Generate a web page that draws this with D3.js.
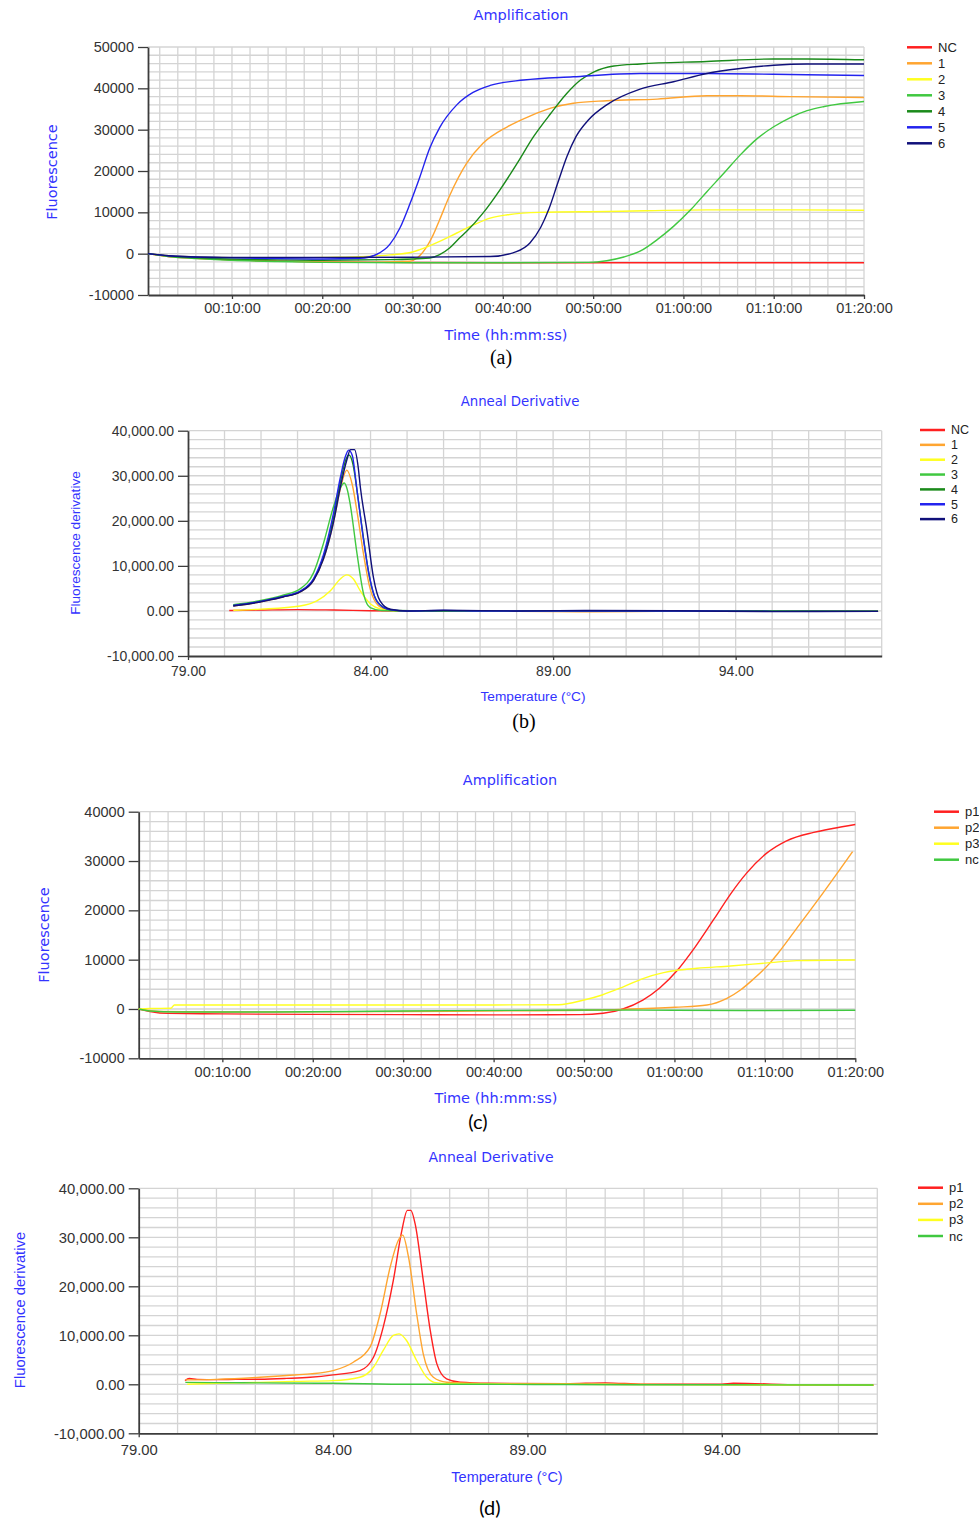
<!DOCTYPE html>
<html>
<head>
<meta charset="utf-8">
<script src="https://cdnjs.cloudflare.com/ajax/libs/d3/7.8.5/d3.min.js"></script>
<style>
body { margin: 0; background: #fff; }
</style>
</head>
<body>
<div id="chart"></div>
<script>
// ---------- data ----------
// (a) amplification, time in minutes
var ampALabels = ["NC", "1", "2", "3", "4", "5", "6"];
var ampA_NC = [[0.7,0],[3,-700],[6,-1100],[10,-1500],[15,-1800],[20,-2000],[30,-2150],[40,-2200],[50,-2200],[60,-2200],[70,-2200],[80,-2200]];
var ampA_1 = [[0.7,0],[3,-700],[6,-1100],[10,-1500],[15,-1800],[20,-2000],[25,-2100],[29.7,-1850],[30.5,-1050],[31.6,1760],[32.3,4600],[33,8200],[34.1,14000],[36,21900],[37.8,26700],[40.5,30700],[43,33300],[45.3,35200],[47.8,36400],[51.5,37000],[57.1,37400],[62.6,38200],[66.3,38200],[71.9,38000],[80,37800]];
var ampA_2 = [[0.7,0],[3,-500],[6,-800],[10,-1000],[15,-1100],[20,-900],[25,-650],[27.5,-300],[30,400],[30.8,970],[33,3000],[34.9,5000],[36.8,7000],[38.6,8600],[40.5,9400],[44.1,10000],[51.5,10200],[62.6,10600],[70,10600],[80,10500]];
var ampA_3 = [[0.7,0],[3,-700],[6,-1200],[10,-1600],[15,-1900],[20,-2100],[30,-2200],[40,-2200],[49.5,-2100],[51.5,-1700],[53.4,-800],[55.2,600],[57.1,3400],[58.9,6600],[60.8,10600],[62.6,15000],[64.5,19500],[66.3,23900],[68.2,27900],[70,30700],[71.9,33000],[73.7,34600],[75.6,35600],[80,36800]];
var ampA_4 = [[0.7,0],[3,-600],[6,-1000],[10,-1300],[15,-1500],[20,-1600],[27.5,-1450],[31.9,-1050],[33,-240],[34.1,1370],[35.2,3790],[36,5400],[37.8,9800],[39.7,15500],[41.6,21900],[43.4,28300],[45.3,33900],[47.1,38800],[48.6,42000],[50.1,44000],[52.3,45400],[55.2,45900],[62.6,46500],[70,47100],[73.7,47100],[80,46900]];
var ampA_5 = [[0.7,0],[3,-500],[6,-800],[10,-1000],[15,-1200],[20,-1300],[24.2,-1100],[26,-200],[27.5,2300],[28.6,6200],[29.7,12000],[30.8,18500],[31.9,25500],[33,30500],[34.9,36000],[36.7,39000],[38.6,40700],[42.3,42000],[47.8,42800],[55.2,43600],[62.7,43600],[70,43400],[80,43100]];
var ampA_6 = [[0.7,0],[3,-500],[6,-800],[10,-900],[20,-900],[30,-850],[38.6,-700],[41.5,500],[43,2600],[44.2,6400],[45.1,10800],[46.1,17200],[47.1,23500],[48.1,28300],[49.5,32400],[51.5,36000],[55.2,39800],[58.9,41600],[62.6,43600],[66.3,44800],[70,45600],[73.7,45900],[80,45900]];

// (b) anneal derivative, temperature in deg C
var derBLabels = ["NC", "1", "2", "3", "4", "5", "6"];
var derB_NC = [[80.13,100],[81,200],[82,300],[83,200],[84,50],[85,0],[90,0],[95,-50],[97.9,-50]];
var derB_1 = [[80.24,1100],[80.7,1600],[81.16,2300],[81.6,3100],[82.07,4200],[82.44,6800],[82.71,11500],[82.98,19500],[83.17,27000],[83.35,31250],[83.5,28000],[83.65,21000],[83.8,13000],[83.97,5500],[84.15,1800],[84.4,400],[84.8,0],[88,-100],[90,-200],[92,-100],[97.9,-100]];
var derB_2 = [[80.24,150],[81,400],[82.07,1100],[82.53,2230],[82.9,4460],[83.17,7100],[83.35,8000],[83.53,7100],[83.72,4460],[84,1560],[84.26,450],[84.6,50],[85,0],[88,-100],[90,-50],[97.9,-50]];
var derB_3 = [[80.24,1400],[80.7,1900],[81.16,2600],[81.6,3500],[82.07,4900],[82.44,8500],[82.71,15000],[82.98,23000],[83.17,27300],[83.28,28400],[83.36,27000],[83.44,23800],[83.63,12650],[83.81,3720],[83.99,740],[84.3,100],[85,0],[90,0],[97.9,-50]];
var derB_4 = [[80.24,1200],[80.7,1700],[81.16,2400],[81.6,3200],[82.07,4300],[82.44,7000],[82.71,12000],[82.98,20500],[83.17,28500],[83.32,33500],[83.41,34600],[83.52,32500],[83.65,25500],[83.8,16500],[83.97,7500],[84.15,2500],[84.4,600],[84.7,100],[85.5,0],[90,0],[97.9,-50]];
var derB_5 = [[80.24,1200],[80.7,1700],[81.16,2400],[81.6,3200],[82.07,4400],[82.44,7200],[82.71,12500],[82.98,21500],[83.17,29500],[83.3,34000],[83.4,35700],[83.5,34500],[83.62,27400],[83.77,18000],[83.95,8500],[84.13,2800],[84.35,800],[84.6,200],[85,0],[86,100],[87,0],[90,-50],[93,0],[95,-100],[97.9,-100]];
var derB_6 = [[80.24,1100],[80.7,1600],[81.16,2300],[81.6,3100],[82.07,4200],[82.44,6800],[82.71,11500],[82.98,19500],[83.2,28500],[83.35,33500],[83.45,35800],[83.56,35800],[83.66,32000],[83.72,27500],[83.9,17900],[84.08,7400],[84.26,2230],[84.54,380],[85,0],[86,150],[88,0],[90,100],[93,0],[95,-150],[97.9,-100]];

// (c) amplification, time in minutes
var ampCLabels = ["p1", "p2", "p3", "nc"];
var ampC_p1 = [[0.75,0],[2,-500],[4,-900],[10,-1000],[20,-1100],[30,-1150],[40,-1200],[49.6,-1150],[52.1,-880],[54.3,0],[56.5,1800],[58.4,4300],[60.3,7800],[62.3,12600],[64.4,18300],[66.2,23300],[68,27600],[70.2,31600],[72.4,34100],[75.4,35800],[77.5,36600],[80,37400]];
var ampC_p2 = [[0.75,0],[3,-500],[10,-600],[30,-500],[45,-350],[54,-100],[60.1,340],[63.6,800],[65.8,2160],[67.3,3850],[68.7,6000],[70.6,9400],[71.5,11400],[73.5,16300],[76.5,23700],[79.7,31900]];
var ampC_p3 = [[0.75,0],[2,100],[4.3,150],[4.7,810],[10,820],[20,820],[30,820],[40,820],[47.2,850],[50,1820],[52,2840],[54.4,4530],[56.6,6220],[58.8,7360],[60.1,7800],[62.5,8250],[66.2,8720],[70.6,9390],[73.5,9800],[80,9930]];
var ampC_nc = [[0.75,0],[2,-400],[5,-600],[15,-600],[30,-400],[50,-200],[60,-250],[70,-300],[80,-250]];

// (d) anneal derivative, temperature in deg C
var derDLabels = ["p1", "p2", "p3", "nc"];
var derD_p1 = [[80.19,760],[80.3,1170],[80.5,1000],[81,950],[81.5,1000],[82.12,1030],[82.8,1200],[83.41,1430],[84,1920],[84.69,2800],[85.04,5530],[85.29,11670],[85.55,21200],[85.77,31400],[85.91,35500],[86,35500],[86.11,32800],[86.32,21200],[86.5,11000],[86.67,4170],[86.92,1100],[87.27,410],[88,200],[90,100],[91,300],[92,0],[94,0],[94.3,200],[96,-100],[97.9,-200]];
var derD_p2 = [[80.2,900],[81,1000],[82.12,1430],[82.8,1800],[83.41,2120],[84,2800],[84.52,4500],[84.95,7570],[85.21,14400],[85.47,23950],[85.68,29400],[85.79,30440],[85.94,26000],[86.15,14400],[86.32,6200],[86.58,1430],[86.92,410],[87.5,200],[90,0],[94,-100],[97.9,-200]];
var derD_p3 = [[80.25,0],[81,200],[82.12,400],[83,600],[84,750],[84.69,1430],[85.04,3480],[85.29,6900],[85.55,9970],[85.7,10300],[85.89,8940],[86.15,4850],[86.41,1430],[86.6,400],[87,100],[90,0],[97.9,-150]];
var derD_nc = [[80.2,400],[81,350],[82,300],[84,200],[86,0],[88,0],[90,-50],[94,-100],[97.9,-150]];

// axis ticks
var timeTicks = [10, 20, 30, 40, 50, 60, 70, 80];
var tempTicks = [79, 84, 89, 94];
var ampATicks = [-10000, 0, 10000, 20000, 30000, 40000, 50000];
var ampCTicks = [-10000, 0, 10000, 20000, 30000, 40000];
var derTicks = [-10000, 0, 10000, 20000, 30000, 40000];

var colors7 = ["#ff2020", "#ffa530", "#ffff20", "#40c840", "#1a8a1a", "#2323ee", "#10107a"];
var colors4 = ["#ff2020", "#ffa530", "#ffff20", "#40c840"];

// ---------- helpers ----------
var locale = d3.formatLocale({decimal: ".", thousands: ",", grouping: [3], currency: ["$", ""], minus: "-"});
var fmtInt = locale.format("d");
var fmtDer = locale.format(",.2f");
var fmtTemp = locale.format(".2f");
function fmtTime(m) {
    var h = Math.floor(m / 60), mm = m % 60;
    return (h < 10 ? "0" : "") + h + ":" + (mm < 10 ? "0" : "") + mm + ":00";
}
var BLUE = "#3333ff";

var svg = d3.select("#chart").append("svg")
    .attr("width", 979)
    .attr("height", 1522);

CurvePanel = function(_svg, _opts, _series, _labels, _colors) {
    this.svg = _svg;
    this.opts = _opts;
    this.series = _series;
    this.labels = _labels;
    this.colors = _colors;
    this.initVis();
}

CurvePanel.prototype.initVis = function() {
    var vis = this, o = vis.opts;

    vis.x = d3.scaleLinear().domain(o.xDomain).range([o.left, o.right]);
    vis.y = d3.scaleLinear().domain(o.yDomain).range([o.bottom, o.top]);
    vis.g = vis.svg.append("g");

    // grid
    vis.g.append("g").selectAll("line")
        .data(d3.range(o.xGridStart, o.xDomain[1] + 1e-6, o.xGridStep))
        .enter().append("line")
        .attr("x1", function(d) { return vis.x(d); })
        .attr("x2", function(d) { return vis.x(d); })
        .attr("y1", o.top).attr("y2", o.bottom)
        .attr("stroke", "#d4d4d4").attr("stroke-width", 1.3);
    vis.g.append("g").selectAll("line")
        .data(d3.range(o.yDomain[0] + 2000, o.yDomain[1] + 1, 2000))
        .enter().append("line")
        .attr("y1", function(d) { return vis.y(d); })
        .attr("y2", function(d) { return vis.y(d); })
        .attr("x1", o.left).attr("x2", o.right)
        .attr("stroke", "#d4d4d4").attr("stroke-width", 1.3);

    // axes
    var yAxis = d3.axisLeft(vis.y).tickValues(o.yTicks).tickFormat(o.yFormat)
        .tickSize(10).tickPadding(4).tickSizeOuter(0);
    var xAxis = d3.axisBottom(vis.x).tickValues(o.xTicks).tickFormat(o.xFormat)
        .tickSize(4).tickPadding(o.xPad).tickSizeOuter(0);
    [vis.g.append("g").attr("transform", "translate(" + o.left + ",0)").call(yAxis),
     vis.g.append("g").attr("transform", "translate(0," + o.bottom + ")").call(xAxis)]
        .forEach(function(ax) {
            ax.attr("color", "#3c3c3c");
            ax.select(".domain").attr("stroke-width", 1.8);
            ax.selectAll(".tick line").attr("stroke-width", 1.3);
            ax.selectAll("text")
                .attr("fill", "#333")
                .style("font-family", "'Liberation Sans', Arial, sans-serif")
                .style("font-size", o.tickFont + "px");
        });

    // curves
    var line = d3.line()
        .x(function(d) { return vis.x(d[0]); })
        .y(function(d) { return vis.y(d[1]); })
        .curve(d3.curveMonotoneX);
    vis.g.append("g").selectAll("path")
        .data(vis.series)
        .enter().append("path")
        .attr("d", line)
        .attr("fill", "none")
        .attr("stroke", function(d, i) { return vis.colors[i]; })
        .attr("stroke-width", 1.4);

    // legend
    var leg = vis.g.append("g").selectAll("g")
        .data(vis.labels)
        .enter().append("g")
        .attr("transform", function(d, i) { return "translate(0," + (o.legY + i * o.legStep) + ")"; });
    leg.append("line")
        .attr("x1", o.legX).attr("x2", o.legX + 25)
        .attr("stroke", function(d, i) { return vis.colors[i]; })
        .attr("stroke-width", 2.5);
    leg.append("text")
        .attr("x", o.legX + 31).attr("dy", "0.35em")
        .style("font-family", "'Liberation Sans', Arial, sans-serif")
        .style("font-size", o.legFont + "px")
        .attr("fill", "#222")
        .text(function(d) { return d; });

    // titles
    vis.addText(o.title[0], o.title[1], o.title[2], o.titleFont, o.title[3], BLUE, 0);
    vis.addText(o.xLabel[0], o.xLabel[1], o.xLabel[2], o.labelFont, o.xLabel[3], BLUE, 0);
    vis.addText(o.yLabel[0], o.yLabel[1], o.yLabel[2], o.labelFont, o.yLabel[3], BLUE, -90);
    vis.addText(o.caption[0], o.caption[1], o.caption[2], o.captionFont, o.caption[3], "#000", 0);
}

CurvePanel.prototype.addText = function(x, y, str, family, size, color, rot) {
    this.g.append("text")
        .attr("transform", "translate(" + x + "," + y + ") rotate(" + rot + ")")
        .attr("text-anchor", "middle")
        .attr("dy", "0.35em")
        .attr("fill", color)
        .style("font-family", family)
        .style("font-size", size + "px")
        .text(str);
}

var VERD = "'DejaVu Sans', Verdana, sans-serif";
var ARIAL = "'Liberation Sans', Arial, sans-serif";

new CurvePanel(svg, {
    left: 148, right: 864, top: 47, bottom: 295,
    xDomain: [0.7, 80], yDomain: [-10000, 50000],
    xGridStart: 2, xGridStep: 2,
    xTicks: timeTicks, xFormat: fmtTime, yTicks: ampATicks, yFormat: fmtInt,
    tickFont: 14.5, xPad: 4,
    legX: 907, legY: 47.3, legStep: 16, legFont: 13,
    title: [521, 15, "Amplification", 14.5], titleFont: VERD,
    xLabel: [506, 335, "Time (hh:mm:ss)", 14.5], yLabel: [52, 172, "Fluorescence", 14.5], labelFont: VERD,
    caption: [501, 357, "(a)", 20], captionFont: "'Liberation Serif', 'Times New Roman', serif"
}, [ampA_NC, ampA_1, ampA_2, ampA_3, ampA_4, ampA_5, ampA_6], ampALabels, colors7);

new CurvePanel(svg, {
    left: 188, right: 881.7, top: 430.7, bottom: 656,
    xDomain: [79, 98], yDomain: [-10000, 40000],
    xGridStart: 80, xGridStep: 1,
    xTicks: tempTicks, xFormat: fmtTemp, yTicks: derTicks, yFormat: fmtDer,
    tickFont: 14, xPad: 6.5,
    legX: 920, legY: 430, legStep: 14.85, legFont: 12.5,
    title: [520, 401, "Anneal Derivative", 13.3], titleFont: VERD,
    xLabel: [533, 696, "Temperature (°C)", 13.7], yLabel: [75, 543, "Fluorescence derivative", 13.6], labelFont: ARIAL,
    caption: [524, 721, "(b)", 20], captionFont: "'Liberation Serif', 'Times New Roman', serif"
}, [derB_NC, derB_1, derB_2, derB_3, derB_4, derB_5, derB_6], derBLabels, colors7);

new CurvePanel(svg, {
    left: 138.7, right: 855.3, top: 811.7, bottom: 1058.3,
    xDomain: [0.75, 80], yDomain: [-10000, 40000],
    xGridStart: 2, xGridStep: 2,
    xTicks: timeTicks, xFormat: fmtTime, yTicks: ampCTicks, yFormat: fmtInt,
    tickFont: 14.5, xPad: 4,
    legX: 934, legY: 811.7, legStep: 16, legFont: 13,
    title: [510, 780, "Amplification", 14.4], titleFont: VERD,
    xLabel: [496, 1097.7, "Time (hh:mm:ss)", 14.5], yLabel: [43.5, 935, "Fluorescence", 14.5], labelFont: VERD,
    caption: [478, 1121.7, "(c)", 20], captionFont: "Lato, 'Open Sans', sans-serif"
}, [ampC_p1, ampC_p2, ampC_p3, ampC_nc], ampCLabels, colors4);

new CurvePanel(svg, {
    left: 138.7, right: 877.3, top: 1188.3, bottom: 1433.3,
    xDomain: [79, 98], yDomain: [-10000, 40000],
    xGridStart: 80, xGridStep: 1,
    xTicks: tempTicks, xFormat: fmtTemp, yTicks: derTicks, yFormat: fmtDer,
    tickFont: 14.8, xPad: 7,
    legX: 918, legY: 1187.7, legStep: 16.1, legFont: 13,
    title: [491, 1156.7, "Anneal Derivative", 14], titleFont: VERD,
    xLabel: [507, 1477.3, "Temperature (°C)", 14.5], yLabel: [20, 1310, "Fluorescence derivative", 14.8], labelFont: ARIAL,
    caption: [490, 1508, "(d)", 20], captionFont: "Lato, 'Open Sans', sans-serif"
}, [derD_p1, derD_p2, derD_p3, derD_nc], derDLabels, colors4);
</script>
</body>
</html>
